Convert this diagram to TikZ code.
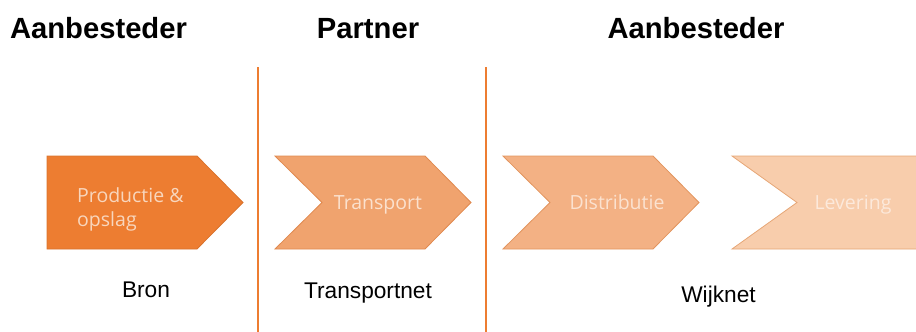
\documentclass[tikz,border=0pt]{standalone}
\usepackage{fontspec}
\setmainfont{Liberation Sans}
\newfontfamily\opensans{Open Sans}
\definecolor{cA}{HTML}{ED7D31}
\definecolor{cB}{HTML}{F0A36E}
\definecolor{cC}{HTML}{F3B184}
\definecolor{cD}{HTML}{F8CDAC}
\definecolor{bA}{HTML}{D9732D}
\definecolor{bB}{HTML}{E08A50}
\definecolor{bC}{HTML}{E2955F}
\definecolor{bD}{HTML}{E6A676}
\definecolor{tA}{HTML}{F8D6BD}
\definecolor{tB}{HTML}{FBE1CE}
\definecolor{tC}{HTML}{FBE2D0}
\definecolor{tD}{HTML}{FCE9DB}
\definecolor{divc}{HTML}{ED7D31}
\tikzset{
  heading/.style={font=\bfseries\fontsize{29.2}{33}\selectfont, anchor=base, inner sep=0pt},
  netlabel/.style={font=\fontsize{22.7}{26}\selectfont, anchor=base, inner sep=0pt},
  steptext/.style={font=\opensans\fontsize{19.5}{24}\selectfont, inner sep=0pt},
  divider/.style={draw=divc, line width=1.8pt},
  stepshape/.style={line width=0.8pt, line join=miter}
}
\begin{document}
\begin{tikzpicture}[x=1pt,y=-1pt]
\useasboundingbox (0,0) rectangle (916,332);
\clip (0,0) rectangle (916,332);
% headings
\node[heading] (h1) at (98.5,38) {Aanbesteder};
\node[heading] (h2) at (368,38) {Partner};
\node[heading] (h3) at (696,38) {Aanbesteder};
% dividers
\coordinate (d1t) at (258,67);
\coordinate (d1b) at (258,332);
\coordinate (d2t) at (486,67);
\coordinate (d2b) at (486,332);
\draw[divider] (d1t) -- (d1b);
\draw[divider] (d2t) -- (d2b);
% step shapes
\filldraw[stepshape, fill=cA, draw=bA] (47,156) -- (197,156) -- (243,202.5) -- (197,249) -- (47,249) -- cycle;
\filldraw[stepshape, fill=cB, draw=bB] (275,156) -- (425,156) -- (471,202.5) -- (425,249) -- (275,249) -- (322,202.5) -- cycle;
\filldraw[stepshape, fill=cC, draw=bC] (503,156) -- (653,156) -- (699,202.5) -- (653,249) -- (503,249) -- (550,202.5) -- cycle;
\filldraw[stepshape, fill=cD, draw=bD] (732,156) -- (940,156) -- (940,249) -- (732,249) -- (797,202.5) -- cycle;
% step texts
\node[steptext, text=tA, anchor=base west] (s1) at (77,202) {Productie \&};
\node[steptext, text=tA, anchor=base west] (s1b) at (77,226) {opslag};
\node[steptext, text=tB, anchor=base] (s2) at (378,209) {Transport};
\node[steptext, text=tC, anchor=base] (s3) at (617,209) {Distributie};
\node[steptext, text=tD, anchor=base] (s4) at (853,209) {Levering};
% net labels
\node[netlabel] (n1) at (146,297) {Bron};
\node[netlabel] (n2) at (368,298) {Transportnet};
\node[netlabel] (n3) at (718.5,302) {Wijknet};
\end{tikzpicture}
\end{document}
